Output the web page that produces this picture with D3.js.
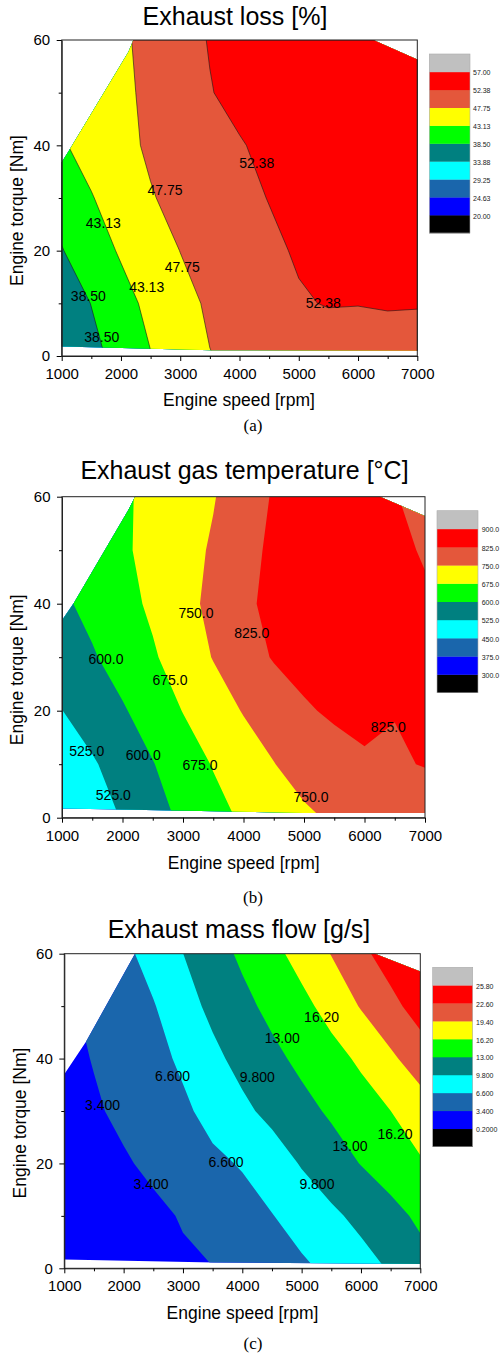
<!DOCTYPE html>
<html><head><meta charset="utf-8">
<script src="https://cdn.jsdelivr.net/npm/d3@7"></script>
<style>
body{margin:0;background:#fff}
svg{display:block}
text{font-family:"Liberation Sans",Arial,sans-serif}
</style>
</head><body>
<svg id="chart" width="503" height="1354"></svg>
<script>
// ---------------- DATA ----------------
const speeds = [1000,1500,2000,2500,3000,3500,4000,4500,5000,5500,6000,6500,7000];
const torques = [0,10,20,30,40,50,60];
const speedTicks = [1000,2000,3000,4000,5000,6000,7000];
const speedMinorTicks = [1500,2500,3500,4500,5500,6500];
const torqueTicks = [0,20,40,60];
const torqueMinorTicks = [10,30,50];
const bandColors = ["#000000","#0000FF","#1A66AC","#00FFFF","#008080","#00FF00","#FFFF00","#E4573B","#FF0000","#C0C0C0"];

// (a) Exhaust loss [%] — rows: torque 0..60, columns: speed 1000..7000
const lossValues = [
  [34.9,37.2,40.1,43.0,45.3,47.65,48.5,49.2,49.8,50.0,50.2,50.5,50.6],
  [35.7,38.6,41.6,44.2,46.5,48.3,49.5,50.6,52.0,52.6,52.5,52.7,52.6],
  [38.3,41.0,43.6,45.8,47.8,49.1,50.3,51.6,52.8,53.5,54.0,54.3,54.5],
  [40.2,42.9,45.2,47.5,48.8,50.1,51.3,52.5,53.7,54.6,55.2,55.5,55.7],
  [42.7,44.7,46.7,48.3,49.6,50.8,52.1,53.3,54.3,55.0,55.5,55.8,56.0],
  [42.8,44.8,46.8,48.7,50.4,52.2,53.5,54.5,55.2,55.7,56.0,56.2,56.3],
  [43.0,45.0,47.1,48.9,50.8,52.6,53.8,54.7,55.3,55.8,56.1,56.3,56.4]
];
const lossLevels = [20.00,24.63,29.25,33.88,38.50,43.13,47.75,52.38,57.00];
const lossLevelLabels = ["20.00","24.63","29.25","33.88","38.50","43.13","47.75","52.38","57.00"];
const lossEnvelope = [[1000,1.8],[1000,36.8],[1129,39.1],[2125,57.7],[2209,60],[6257,60],[7000,56.3],[7000,1.0],[3530,1.1]];
const lossLabelText = ["52.38","47.75","43.13","47.75","43.13","38.50","52.38","38.50"];
const lossLabelSpeed = [4290,2743,1703,3035,2434,1450,5414,1675];
const lossLabelTorque = [36.6,31.5,25.3,17.0,13.2,11.4,10.1,3.7];

// (b) Exhaust gas temperature [°C]
const tempValues = [
  [460,492,529,572,613,651,685,711,737,760,770,778,784],
  [477,517,557,597,639,679,714,748,780,800,815,818,828],
  [524,559,593,633,677,716,754,784,818,834,845,827,840],
  [556,593,630,667,709,753,794,830,845,857,863,864,850],
  [588,620,652,687,727,768,815,838,850,860,865,862,838],
  [600,630,665,695,725,758,803,838,848,856,860,845,817],
  [610,640,665,692,719,746,789,831,840,846,845,828,805]
];
const tempLevels = [300,375,450,525,600,675,750,825,900];
const tempLevelLabels = ["300.0","375.0","450.0","525.0","600.0","675.0","750.0","825.0","900.0"];
const tempEnvelope = [[1000,1.7],[1000,36.9],[1198,40.2],[2096,57.5],[2207,60],[6257,60],[7000,56.4],[7000,0.9],[5000,0.9]];
const tempLabelText = ["750.0","825.0","600.0","675.0","825.0","525.0","600.0","675.0","525.0","750.0"];
const tempLabelSpeed = [3215,4135,1727,2785,6394,1408,2344,3281,1849,5116];
const tempLabelTorque = [38.3,34.5,29.6,25.7,17.0,12.5,11.7,9.8,4.2,3.9];

// (c) Exhaust mass flow [g/s]
const flowValues = [
  [0.9,1.4,1.9,2.4,2.9,3.35,4.26,5.17,6.09,7.22,8.62,10.08,11.8],
  [1.2,1.7,2.3,2.7,3.64,4.6,5.55,6.5,7.84,9.22,10.6,12.0,13.6],
  [1.6,2.3,3.05,4.05,5.05,6.05,6.81,8.2,10.03,11.57,13.1,14.5,15.9],
  [2.0,3.0,4.09,5.1,6.11,7.47,9.14,10.65,12.05,13.44,14.81,16.19,17.8],
  [2.4,3.56,4.66,5.76,7.06,9.08,10.76,12.25,13.71,15.13,16.72,18.84,21.05],
  [3.0,3.9,5.2,6.4,8.57,10.52,12.18,13.8,15.36,17.28,19.61,21.73,23.9],
  [3.5,4.8,5.85,7.81,9.78,11.68,13.54,15.32,17.31,19.5,21.88,24.0,25.2]
];
const flowLevels = [0.2,3.4,6.6,9.8,13.0,16.2,19.4,22.6,25.8];
const flowLevelLabels = ["0.2000","3.400","6.600","9.800","13.00","16.20","19.40","22.60","25.80"];
const flowEnvelope = [[1000,1.7],[1000,37],[1365,43.2],[2191,60],[6236,60],[7000,56.6],[7000,0.8],[3511,1.1]];
const flowLabelText = ["16.20","13.00","6.600","9.800","3.400","16.20","13.00","6.600","3.400","9.800"];
const flowLabelSpeed = [5337,4674,2826,4253,1646,6573,5815,3725,2461,5258];
const flowLabelTorque = [47.9,43.9,36.7,36.4,31.1,25.6,23.3,20.3,16.1,16.0];

const titles = ["Exhaust loss [%]","Exhaust gas temperature [\u00B0C]","Exhaust mass flow [g/s]"];
const subLabels = ["(a)","(b)","(c)"];

// ---------------- LAYOUT ----------------
const panels = [
  {values:lossValues, levels:lossLevels, levelLabels:lossLevelLabels, env:lossEnvelope,
   lt:lossLabelText, ls:lossLabelSpeed, lq:lossLabelTorque, lines:true,
   L:{left:61.7,right:417.3,top:40,bottom:356, titleX:235,titleY:24.5, xtX:239,xtY:406, ytX:23,ytY:210.5,
      legX:429.3,legW:40.7,legTop:54,legBot:233,legLab:473, subY:425}},
  {values:tempValues, levels:tempLevels, levelLabels:tempLevelLabels, env:tempEnvelope,
   lt:tempLabelText, ls:tempLabelSpeed, lq:tempLabelTorque, lines:false,
   L:{left:62,right:425,top:496.7,bottom:817.7, titleX:244.5,titleY:479.3, xtX:243.7,xtY:869, ytX:23,ytY:669.8,
      legX:437,legW:41,legTop:510.7,legBot:692.7,legLab:481.7, subY:897}},
  {values:flowValues, levels:flowLevels, levelLabels:flowLevelLabels, env:flowEnvelope,
   lt:flowLabelText, ls:flowLabelSpeed, lq:flowLabelTorque, lines:false,
   L:{left:64.3,right:420.3,top:953.7,bottom:1268.3, titleX:239,titleY:938.3, xtX:242.5,xtY:1319, ytX:26,ytY:1123,
      legX:432.7,legW:40,legTop:967.3,legBot:1146.7,legLab:476, subY:1343}}
];

const svg = d3.select("#chart");
const defs = svg.append("defs");

panels.forEach((p, pi) => {
  const L = p.L;
  const g = svg.append("g");
  const x = d3.scaleLinear().domain([1000,7000]).range([L.left, L.right]);
  const y = d3.scaleLinear().domain([0,60]).range([L.bottom, L.top]);
  const n = speeds.length, m = torques.length;
  const ix = d3.scaleLinear().domain(d3.range(n)).range(speeds);
  const iy = d3.scaleLinear().domain(d3.range(m)).range(torques);
  const proj = d3.geoTransform({point(px, py) {
    const a = Math.max(0, Math.min(n - 1, px - 0.5));
    const b = Math.max(0, Math.min(m - 1, py - 0.5));
    this.stream.point(x(ix(a)), y(iy(b)));
  }});
  const path = d3.geoPath(proj);
  const contours = d3.contours().size([n, m]).thresholds(p.levels)(p.values.flat());

  const cid = "clip" + pi;
  defs.append("clipPath").attr("id", cid).append("path")
    .attr("d", d3.line()(p.env.map(d => [x(d[0]), y(d[1])])) + "Z");

  g.append("g").attr("clip-path", `url(#${cid})`)
    .selectAll("path").data(contours).join("path")
    .attr("d", path)
    .attr("fill", (d, i) => bandColors[i + 1])
    .attr("stroke", p.lines ? "#1a1a1a" : "none")
    .attr("stroke-width", 0.6);

  // contour labels
  g.append("g").selectAll("text").data(p.lt).join("text")
    .attr("x", (d, i) => x(p.ls[i]))
    .attr("y", (d, i) => y(p.lq[i]))
    .attr("dy", "0.36em")
    .attr("text-anchor", "middle")
    .attr("font-size", 14)
    .attr("fill", "#000")
    .text(d => d);

  // frame
  g.append("rect").attr("x", L.left).attr("y", L.top)
    .attr("width", L.right - L.left).attr("height", L.bottom - L.top)
    .attr("fill", "none").attr("stroke", "#222").attr("stroke-width", 1);

  // axes
  const xa = g.append("g").attr("transform", `translate(0,${L.bottom})`)
    .call(d3.axisBottom(x).tickValues(speedTicks).tickFormat(d3.format("d")).tickSize(5).tickSizeOuter(0).tickPadding(7.5));
  g.append("g").attr("transform", `translate(0,${L.bottom})`)
    .call(d3.axisBottom(x).tickValues(speedMinorTicks).tickFormat("").tickSize(3).tickSizeOuter(0))
    .select(".domain").remove();
  const ya = g.append("g").attr("transform", `translate(${L.left},0)`)
    .call(d3.axisLeft(y).tickValues(torqueTicks).tickSize(5).tickSizeOuter(0).tickPadding(6.5));
  g.append("g").attr("transform", `translate(${L.left},0)`)
    .call(d3.axisLeft(y).tickValues(torqueMinorTicks).tickFormat("").tickSize(3).tickSizeOuter(0))
    .select(".domain").remove();
  g.selectAll(".tick text").attr("font-size", 15).attr("font-family", '"Liberation Sans",Arial,sans-serif').attr("fill", "#000");
  g.selectAll(".domain").attr("stroke", "#222");

  // titles
  g.append("text").attr("x", L.titleX).attr("y", L.titleY).attr("text-anchor", "middle")
    .attr("font-size", 25).text(titles[pi]);
  g.append("text").attr("x", L.xtX).attr("y", L.xtY).attr("text-anchor", "middle")
    .attr("font-size", 17.5).text("Engine speed [rpm]");
  g.append("text").attr("transform", `translate(${L.ytX},${L.ytY}) rotate(-90)`).attr("text-anchor", "middle")
    .attr("font-size", 17.5).text("Engine torque [Nm]");
  g.append("text").attr("x", 253).attr("y", L.subY).attr("dy", "0.35em").attr("text-anchor", "middle")
    .attr("font-size", 17).style("font-family", '"Liberation Serif","Times New Roman",serif').text(subLabels[pi]);

  // legend
  const h = (L.legBot - L.legTop) / bandColors.length;
  const lg = g.append("g");
  lg.selectAll("rect").data(bandColors).join("rect")
    .attr("x", L.legX).attr("y", (d, i) => L.legBot - (i + 1) * h)
    .attr("width", L.legW).attr("height", h + 0.3).attr("fill", d => d);
  lg.append("rect").attr("x", L.legX).attr("y", L.legTop).attr("width", L.legW).attr("height", L.legBot - L.legTop)
    .attr("fill", "none").attr("stroke", "#aaa").attr("stroke-width", 0.6);
  lg.selectAll("text").data(p.levelLabels).join("text")
    .attr("x", L.legLab).attr("y", (d, i) => L.legBot - (i + 1) * h + 1)
    .attr("dy", "0.35em").attr("font-size", 7).attr("fill", "#222").text(d => d);
});
</script>
</body></html>
